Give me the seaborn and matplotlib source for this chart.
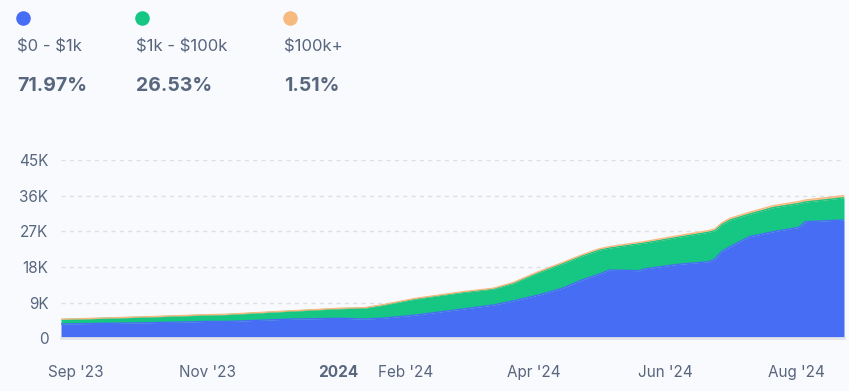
import pandas as pd
import matplotlib.pyplot as plt
import seaborn as sns

# values
dates = ["2023-08-25", "2023-10-05", "2023-11-01", "2023-11-10", "2023-12-11",
         "2024-01-02", "2024-01-13", "2024-01-21", "2024-02-06", "2024-02-28",
         "2024-03-13", "2024-03-22", "2024-04-03", "2024-04-14", "2024-04-23",
         "2024-05-01", "2024-05-06", "2024-05-20", "2024-05-22", "2024-06-07",
         "2024-06-21", "2024-06-24", "2024-06-27", "2024-07-01", "2024-07-10",
         "2024-07-21", "2024-08-02", "2024-08-05", "2024-08-23"]
small = [3610, 3940, 4250, 4250, 4870,
         5050, 4870, 5050, 5880, 7400,
         8400, 9410, 10930, 12620, 14700,
         16150, 17240, 17060, 17500, 18680,
         19330, 20000, 21860, 23120, 25660,
         26900, 28000, 29430, 29860]
mid = [1120, 1430, 1620, 1720, 2000,
       2420, 2740, 3240, 4060, 4190,
       4040, 4410, 5630, 6170, 6020,
       6070, 5540, 6810, 6510, 6830,
       7440, 7180, 6780, 6720, 5670,
       6070, 6000, 4950, 5600]
large = [70, 80, 90, 90, 100,
         110, 110, 120, 150, 170,
         190, 210, 250, 290, 310,
         340, 350, 360, 370, 390,
         400, 410, 430, 450, 470,
         500, 510, 520, 540]

legend_names = ["\\$0 - \\$1k", "\\$1k - \\$100k", "\\$100k+"]
legend_pcts = ["71.97%", "26.53%", "1.51%"]
colors = ["#476DF5", "#16C784", "#F6B97F"]

tick_dates = ["2023-09-01", "2023-11-01", "2024-01-01", "2024-02-01",
              "2024-04-01", "2024-06-01", "2024-08-01"]
tick_labels = ["Sep '23", "Nov '23", "2024", "Feb '24", "Apr '24", "Jun '24", "Aug '24"]
y_ticks = [0, 9000, 18000, 27000, 36000, 45000]
y_labels = ["0", "9K", "18K", "27K", "36K", "45K"]

df = pd.DataFrame({"date": pd.to_datetime(dates), "small": small, "mid": mid, "large": large})
df["top_small"] = df["small"]
df["top_mid"] = df["small"] + df["mid"]
df["top_large"] = df["top_mid"] + df["large"]

sns.set_theme(style="white")
plt.rcParams["font.family"] = ["Inter", "DejaVu Sans"]
bg = "#F8FAFD"
txt = "#58667E"

fig = plt.figure(figsize=(8.49, 3.91), dpi=100, facecolor=bg)
ax = fig.add_axes([61 / 849, 1 - 338.3 / 391, 783 / 849, 178.3 / 391], facecolor=bg)

ax.stackplot(df["date"], df["small"], df["mid"], df["large"], colors=colors, linewidth=0)
for col, c in zip(["top_small", "top_mid", "top_large"], colors):
    sns.lineplot(data=df, x="date", y=col, color=c, linewidth=1.0, ax=ax)

ax.set_xlim(df["date"].iloc[0], df["date"].iloc[-1])
ax.set_ylim(0, 45000)
ax.set_xlabel("")
ax.set_ylabel("")

ax.set_yticks(y_ticks)
ax.set_yticklabels(y_labels)
ax.yaxis.grid(True, color="#DCDFE5", linestyle=(0, (3, 3)), linewidth=1.0)
ax.set_axisbelow(True)
ax.tick_params(axis="y", length=0, pad=9, labelsize=11, labelcolor=txt)

ax.set_xticks(pd.to_datetime(tick_dates))
ax.set_xticklabels(tick_labels)
ax.tick_params(axis="x", length=8, width=1.5, color="#E2E5EA", direction="out",
               pad=11, labelsize=11, labelcolor=txt)
for lab in ax.get_xticklabels():
    if lab.get_text() == "2024":
        lab.set_fontweight("bold")

for side in ["top", "right", "left"]:
    ax.spines[side].set_visible(False)
ax.spines["bottom"].set_color("#E2E5EA")
ax.spines["bottom"].set_linewidth(2)
ax.spines["bottom"].set_zorder(5)

# legend header
lx = [17.5, 136.5, 284.5]
dots = fig.add_axes([0, 0, 1, 1], facecolor="none")
dots.set_xlim(0, 849)
dots.set_ylim(391, 0)
dots.axis("off")
for x, name, pct, c in zip(lx, legend_names, legend_pcts, colors):
    dots.scatter([x + 6], [18], s=110, color=c, linewidths=0)
    dots.text(x, 47, name, fontsize=12, color=txt, va="center", ha="left")
    dots.text(x, 86, pct, fontsize=14, color=txt, va="center", ha="left", fontweight="bold")

fig.savefig("out.png", dpi=100, facecolor=bg)
